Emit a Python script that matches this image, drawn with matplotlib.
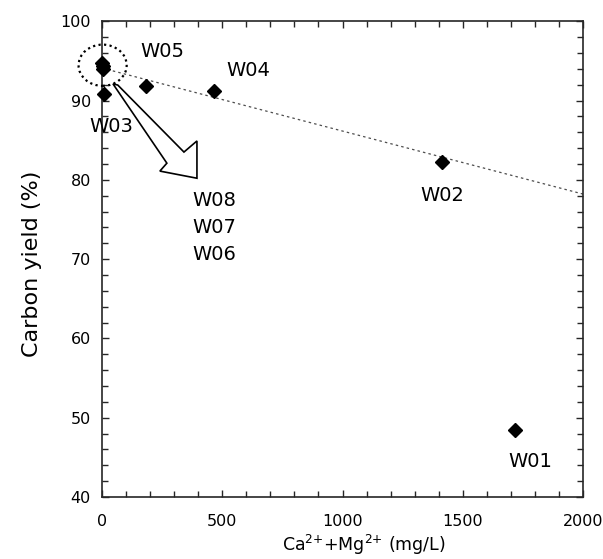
import matplotlib
matplotlib.use("Agg")
import matplotlib.pyplot as plt
import numpy as np
from matplotlib.patches import Ellipse, Polygon
from matplotlib.ticker import MultipleLocator

# samples: Ca2+ + Mg2+ (mg/L) and carbon yield (%)
names = ["W01", "W02", "W03", "W04", "W05", "W06", "W07", "W08"]
ca_mg = [1717, 1414, 10, 466, 183, 3, 5, 2]
yield_pct = [48.5, 82.2, 90.8, 91.2, 91.8, 94.3, 94.0, 94.7]

# dotted trend line (intercept, slope)
trend_b, trend_m = 94.1, -0.00795

# label offsets in points (W06-W08 are grouped at the arrow)
label_offsets = {
    "W01": (11, -23),
    "W02": (0, -24),
    "W03": (5, -23),
    "W04": (25, 15),
    "W05": (12, 25),
}
grouped = ["W08", "W07", "W06"]

fig = plt.figure(figsize=(6.03, 5.59), dpi=100)
ax = fig.add_axes([0.169, 0.111, 0.798, 0.851])

ax.set_xlim(0, 2000)
ax.set_ylim(40, 100)

xs = np.array([0, 2000])
ax.plot(xs, trend_b + trend_m * xs, color="0.3", lw=0.9,
        linestyle=(0, (2, 2.5)), zorder=1)

ax.plot(ca_mg, yield_pct, "D", color="black", ms=6.8, zorder=3, clip_on=False)

for name, x, y in zip(names, ca_mg, yield_pct):
    if name in label_offsets:
        ax.annotate(name, (x, y), xytext=label_offsets[name],
                    textcoords="offset points", ha="center", va="center",
                    fontsize=14)

# dotted circle around the overlapping samples
ax.add_patch(Ellipse((3, 94.45), 200, 5.2, fill=False, edgecolor="black",
                     lw=1.6, linestyle=(0, (1, 1.5)), clip_on=False, zorder=4))

# open arrow pointing at the grouped labels
arrow = [(46, 92.1), (270, 82.1), (241, 81.1), (395, 80.2), (395, 84.9),
         (341, 83.5), (66, 91.95)]
ax.add_patch(Polygon(arrow, closed=True, facecolor="white", edgecolor="black",
                     lw=1.2, zorder=4))

for i, name in enumerate(grouped):
    ax.text(466, 77.45 - 3.45 * i, name, ha="center", va="center", fontsize=14)

ax.xaxis.set_major_locator(MultipleLocator(500))
ax.xaxis.set_minor_locator(MultipleLocator(100))
ax.yaxis.set_major_locator(MultipleLocator(10))
ax.yaxis.set_minor_locator(MultipleLocator(2))
ax.tick_params(which="both", direction="in", top=True, right=True,
               width=1.0, color="0.15")
ax.tick_params(which="major", length=5)
ax.tick_params(which="minor", length=4.5)
ax.tick_params(axis="x", labelsize=11.5, pad=12)
ax.tick_params(axis="y", labelsize=11.5, pad=8)
for sp in ax.spines.values():
    sp.set_linewidth(1.2)
    sp.set_color("0.15")

ax.set_xlabel("Ca$^{2{+}}$+Mg$^{2{+}}$ (mg/L)", fontsize=12.5)
ax.xaxis.set_label_coords(0.545, -0.075)
ax.set_ylabel("Carbon yield (%)", fontsize=16)
ax.yaxis.set_label_coords(-0.125, 0.49)

fig.savefig("out.png", dpi=100)
